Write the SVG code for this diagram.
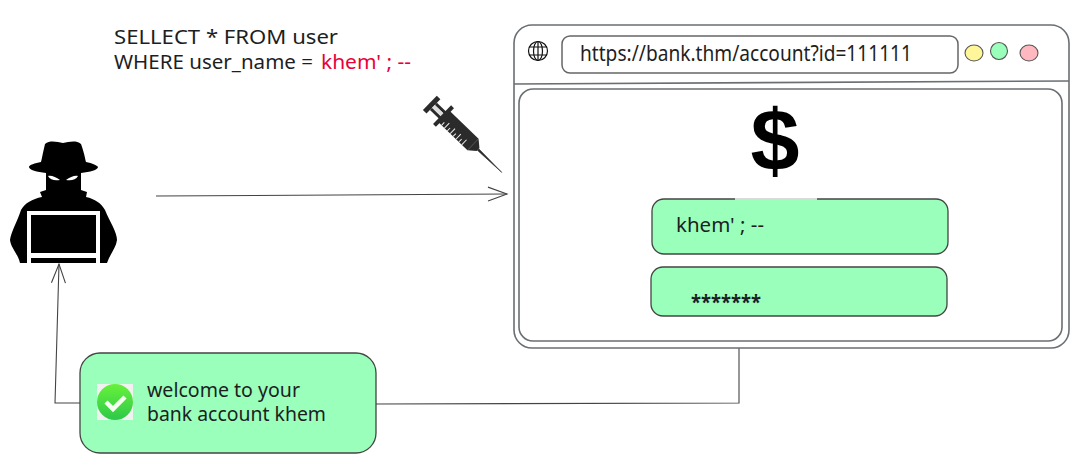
<svg xmlns="http://www.w3.org/2000/svg" width="1080" height="459" viewBox="0 0 1080 459">
<defs>
<marker id="open" markerWidth="24" markerHeight="20" refX="21" refY="10" orient="auto" markerUnits="userSpaceOnUse"><path d="M2,3 L21,10 L2,17" fill="none" stroke="#444" stroke-width="1.1"/></marker>
<linearGradient id="chk" x1="0" y1="0" x2="0" y2="1"><stop offset="0" stop-color="#66f23a"/><stop offset="1" stop-color="#2ec84a"/></linearGradient>
</defs>
<style>
.o{fill:none;stroke:#6a6f73;stroke-width:1.6}
.g{fill:#99ffbb;stroke:#444;stroke-width:1.3}
.c{fill:none;stroke:#444;stroke-width:1.1}
.t{font-family:"Noto Sans","Liberation Sans",sans-serif;fill:#1e1e1e}
</style>
<rect width="1080" height="459" fill="#fff"/>
<g id="connectors">
<path class="c" d="M156,196 L507,194" marker-end="url(#open)"/>
<path class="c" d="M739,348 L739,403 L376,404"/>
<path class="c" d="M80,403 L55,403 L59,264" marker-end="url(#open)"/>
</g>
<g id="hacker">
<path fill="#000" d="M45,144 C50,140 57,142 63,143 C69,142 76,140 81,144 C84,152 85,158 86,162 C92,163 98,166 98,167 C98,170 90,172 81,173 L81,190 L87,192 L86,197 C95,199 101,203 105,210 C110,222 117,232 117,240 C116,248 110,254 107,263 L20,263 C18,254 11,248 10,240 C11,232 17,222 21,210 C25,203 32,199 42,197 L40,192 L46,190 L46,173 C37,172 29,170 29,167 C29,165 35,163 41,162 C42,158 43,152 45,144Z"/>
<path fill="#fff" d="M48,176 C51,175 56,177 60,180 C55,181 50,180 48,176ZM78,176 C75,175 70,177 66,180 C71,181 76,180 78,176Z"/>
<path fill="#fff" fill-rule="evenodd" d="M27,211 H100 V263 H96 V258 H31 V263 H27Z M31,215 V253 H96 V215Z"/>
</g>
<g id="syringe">
<g transform="translate(432,105) rotate(44)">
<rect x="-3" y="-10" width="5" height="20" fill="#2b2b2b"/>
<rect x="2" y="-5" width="13" height="3" fill="#2b2b2b"/>
<rect x="2" y="2" width="13" height="3" fill="#2b2b2b"/>
<rect x="2" y="-2" width="13" height="4" fill="#ddd"/>
<rect x="14" y="-13" width="4" height="26" fill="#2b2b2b"/>
<rect x="17" y="-8" width="40" height="16" fill="#2b2b2b"/>
<path d="M21,8V4M25,8V1M29,8V4M33,8V1M37,8V4M41,8V1M45,8V4M49,8V1" stroke="#eee" stroke-width="1"/>
<path d="M57,-8 L64,-2 V2 L57,8Z" fill="#2b2b2b"/>
<path d="M64,-1 L97,0 L64,1Z" fill="#2b2b2b" stroke="#2b2b2b" stroke-width="0.6"/>
</g>
</g>
<g id="sql-text">
<text class="t" x="114" y="44" font-size="19" textLength="224" lengthAdjust="spacingAndGlyphs">SELLECT * FROM user</text>
<text class="t" x="114" y="69" font-size="19" textLength="199" lengthAdjust="spacingAndGlyphs">WHERE user_name =</text>
<text class="t" x="321" y="69" font-size="19" style="fill:#e9003a" textLength="90" lengthAdjust="spacingAndGlyphs">khem' ; --</text>
</g>
<g id="browser">
<rect class="o" x="514" y="25" width="555" height="323" rx="18"/>
<path class="o" d="M514,84 L1069,81"/>
<rect class="o" x="519" y="89" width="543" height="252" rx="14"/>
</g>
<g id="globe" fill="none" stroke="#111" stroke-width="1.2">
<circle cx="538" cy="51" r="9.5"/>
<ellipse cx="538" cy="51" rx="4.5" ry="9.5"/>
<path d="M529,47H547M529,55H547M538,41.5V60.5"/>
</g>
<g id="url-bar">
<rect x="562" y="36" width="396" height="37" rx="8" fill="#fff" stroke="#666" stroke-width="1.5"/>
<text class="t" x="580" y="61" font-size="21" textLength="332" lengthAdjust="spacingAndGlyphs">https://bank.thm/account?id=111111</text>
</g>
<g id="btn-yellow"><ellipse cx="974" cy="53" rx="9" ry="8" fill="#fff599" stroke="#555" stroke-width="1.1"/></g>
<g id="btn-green"><ellipse cx="999" cy="51" rx="8.5" ry="8.5" fill="#99ffbb" stroke="#555" stroke-width="1.1"/></g>
<g id="btn-pink"><ellipse cx="1029" cy="53" rx="9" ry="8" fill="#ffb8c0" stroke="#555" stroke-width="1.1"/></g>
<g id="dollar"><text x="775" y="171" font-size="88" font-weight="700" text-anchor="middle" font-family="'Liberation Sans',sans-serif" fill="#000">$</text></g>
<g id="username">
<rect class="g" x="652" y="199" width="296" height="55" rx="12"/>
<path d="M735,199H817" stroke="#fff" stroke-width="1.6"/>
<text class="t" x="676" y="232" font-size="19" textLength="88" lengthAdjust="spacingAndGlyphs">khem' ; --</text>
</g>
<g id="password">
<rect class="g" x="651" y="267" width="296" height="49" rx="12"/>
<text class="t" x="691" y="309" font-size="19" font-weight="700" textLength="70" lengthAdjust="spacingAndGlyphs">*******</text>
</g>
<g id="welcome">
<rect class="g" x="80" y="353" width="296" height="100" rx="20"/>
<rect x="97" y="384" width="36" height="36" fill="#f1f1f1"/>
<circle cx="115" cy="402" r="18" fill="url(#chk)"/>
<path d="M106,402 L113,409 L125,397" fill="none" stroke="#f4fff0" stroke-width="4.5"/>
<text class="t" x="147" y="397" font-size="19" textLength="153" lengthAdjust="spacingAndGlyphs">welcome to your</text>
<text class="t" x="147" y="421" font-size="19" textLength="179" lengthAdjust="spacingAndGlyphs">bank account khem</text>
</g>
</svg>
